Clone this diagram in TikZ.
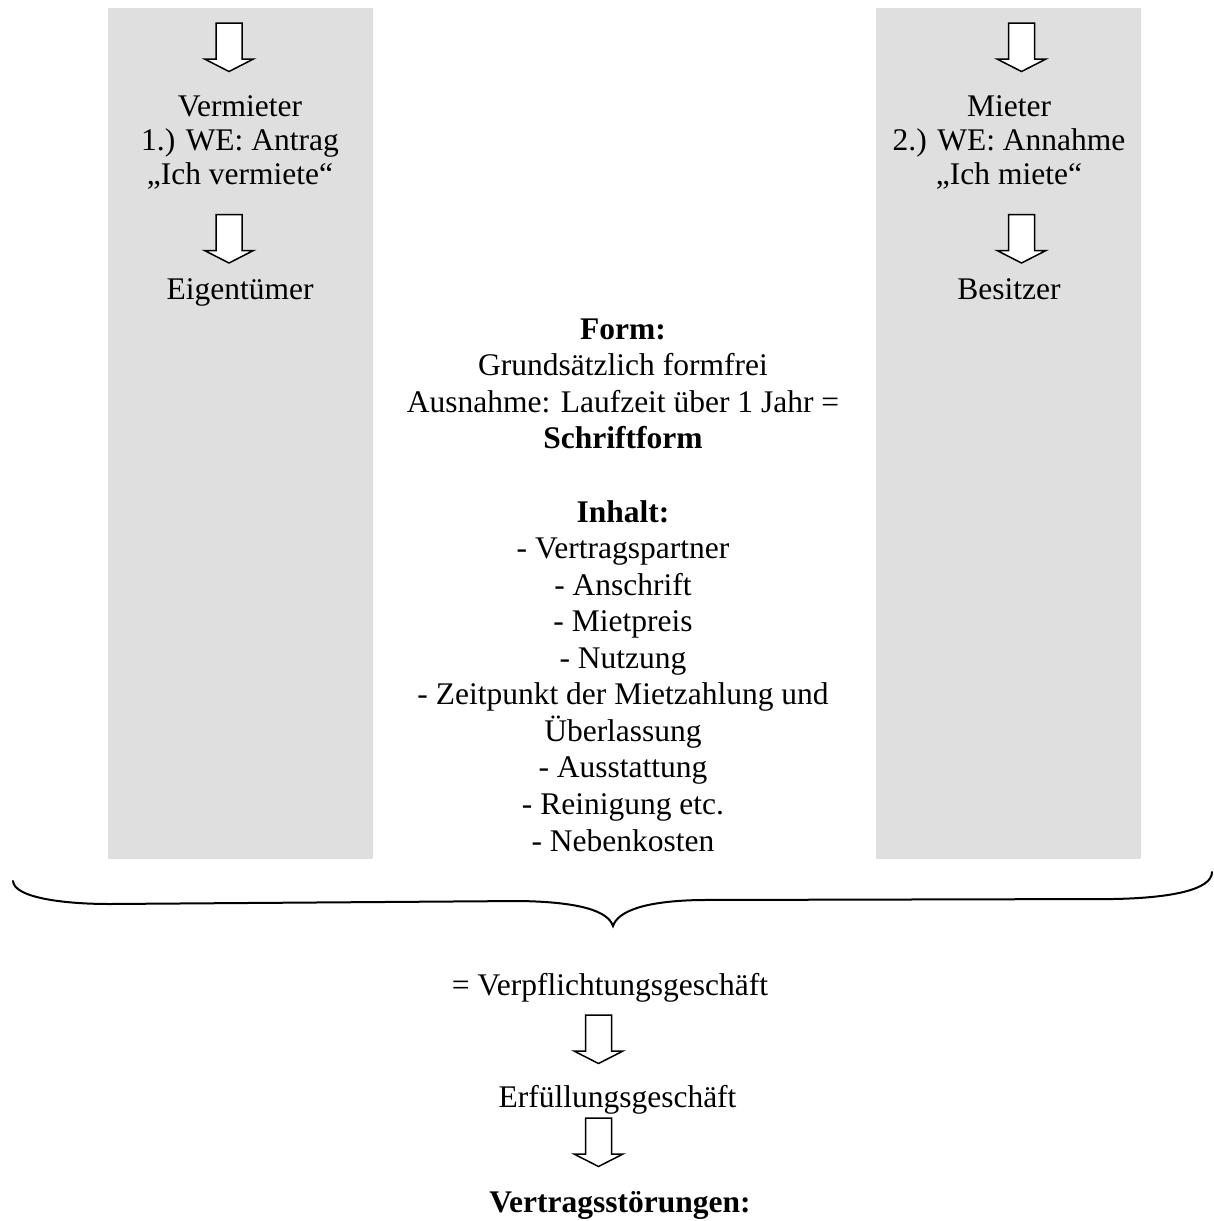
\documentclass[tikz,border=0pt]{standalone}
\usepackage{fontspec}
\setmainfont{Liberation Serif}
\definecolor{panelgray}{RGB}{223,223,223}
\begin{document}
\begin{tikzpicture}[x=1pt,y=-1pt,
  txt/.style={anchor=base, inner sep=0pt, font=\fontsize{31.5}{36.5}\selectfont},
  btxt/.style={anchor=base, inner sep=0pt, font=\fontsize{31.5}{36.5}\selectfont\bfseries},
  panel/.style={fill=panelgray, draw=none},
  blockarrow/.pic={\draw[line width=1.5pt, fill=white, line join=miter]
     (-13,0) -- (13,0) -- (13,36) -- (24.5,36) -- (0,48.5) -- (-24.5,36) -- (-13,36) -- cycle;},
  bracestyle/.style={line width=2pt, line cap=round}]
\useasboundingbox (0,0) rectangle (1213,1221);
% panels
\path[panel] (108,8) rectangle (373,859);
\path[panel] (876,8) rectangle (1141,859);
% left column
\pic at (229,23) {blockarrow};
\node[txt] (vm) at (240,116) {Vermieter};
\node[txt] (we1) at (240,150) {1.) WE: Antrag};
\node[txt] (iv) at (240,184) {„Ich vermiete“};
\pic at (229,214.5) {blockarrow};
\node[txt] (eig) at (240,299.5) {Eigentümer};
% right column
\pic at (1021.5,23) {blockarrow};
\node[txt] (mt) at (1009,116) {Mieter};
\node[txt] (we2) at (1009,150) {2.) WE: Annahme};
\node[txt] (im) at (1009,184) {„Ich miete“};
\pic at (1021.5,214.5) {blockarrow};
\node[txt] (bes) at (1009,299.5) {Besitzer};
% centre
\node[btxt] (form) at (623,339.2) {Form:};
\node[txt] (grund) at (623,375.8) {Grundsätzlich formfrei};
\node[txt] (ausn) at (623,412.3) {Ausnahme: Laufzeit über 1 Jahr =};
\node[btxt] (schrift) at (623,448.9) {Schriftform};
\node[btxt] (inhalt) at (623,522) {Inhalt:};
\node[txt] (i1) at (623,558.6) {- Vertragspartner};
\node[txt] (i2) at (623,595.1) {- Anschrift};
\node[txt] (i3) at (623,631.7) {- Mietpreis};
\node[txt] (i4) at (623,668.2) {- Nutzung};
\node[txt] (i5) at (623,704.8) {- Zeitpunkt der Mietzahlung und};
\node[txt] (i6) at (623,741.4) {Überlassung};
\node[txt] (i7) at (623,777.9) {- Ausstattung};
\node[txt] (i8) at (623,814.5) {- Reinigung etc.};
\node[txt] (i9) at (623,851) {- Nebenkosten};
% brace
\draw[bracestyle] (13,881) .. controls (14,897) and (60,904) .. (110,904)
  -- (520,901) .. controls (580,902) and (608,911) .. (613,926)
  .. controls (618,911) and (645,901) .. (700,900)
  -- (1113,899) .. controls (1170,898) and (1212,890) .. (1212,872);
% bottom
\node[txt] (verpf) at (610,995) {= Verpflichtungsgeschäft};
\pic at (598.5,1015) {blockarrow};
\node[txt] (erf) at (617.5,1107) {Erfüllungsgeschäft};
\pic at (598.5,1118) {blockarrow};
\node[btxt] (stoer) at (620,1212) {Vertragsstörungen:};
\end{tikzpicture}
\end{document}
